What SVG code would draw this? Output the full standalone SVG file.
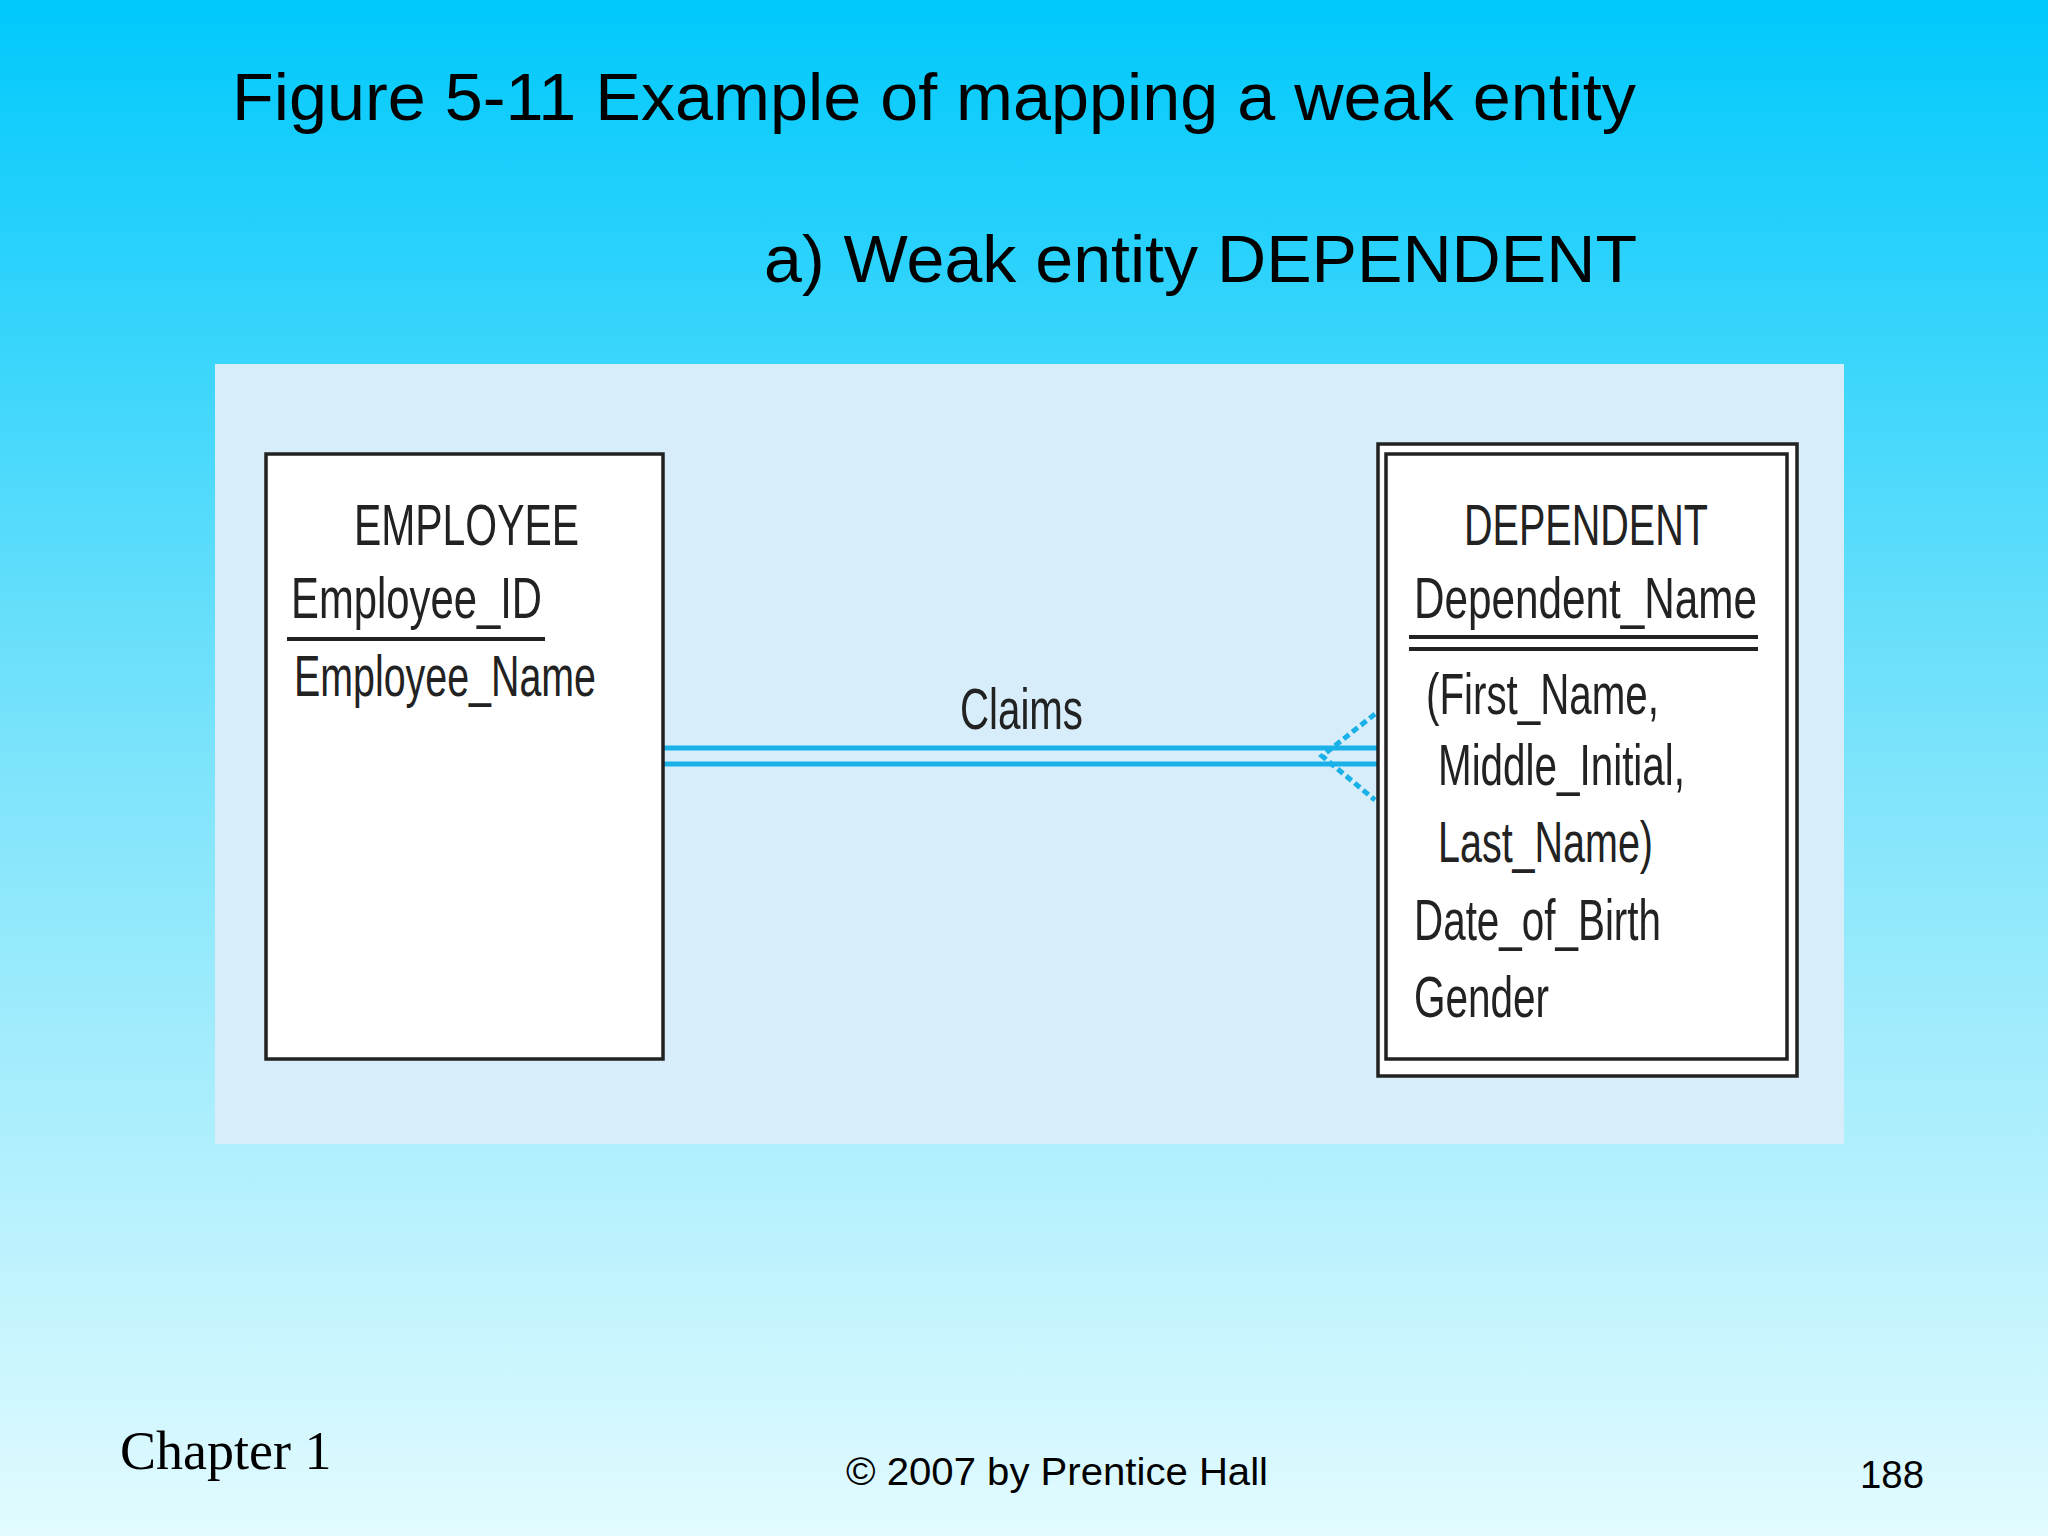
<svg xmlns="http://www.w3.org/2000/svg" width="2048" height="1536" viewBox="0 0 2048 1536">
<defs>
<linearGradient id="bg" x1="0" y1="0" x2="0" y2="1">
<stop offset="0" stop-color="#00c9fc"/>
<stop offset="0.5" stop-color="#7ee4fb"/>
<stop offset="1" stop-color="#e2fbff"/>
</linearGradient>
<style>
.h{font-family:"Liberation Sans",Arial,sans-serif;fill:#000}
.e{font-family:"Liberation Sans",Arial,sans-serif;font-size:58px;fill:#222}
.box{fill:#fff;stroke:#222;stroke-width:3.5}
.rel{stroke:#1ab0e8;stroke-width:5;fill:none}
</style>
</defs>
<rect width="2048" height="1536" fill="url(#bg)"/>
<text class="h" x="232" y="120" font-size="66" textLength="1404" lengthAdjust="spacingAndGlyphs">Figure 5-11 Example of mapping a weak entity</text>
<text class="h" x="764" y="282" font-size="66" textLength="873" lengthAdjust="spacingAndGlyphs">a) Weak entity DEPENDENT</text>
<rect x="215" y="364" width="1629" height="780" fill="#d7eefa"/>
<g id="connectors">
<line class="rel" x1="663" y1="748" x2="1378" y2="748"/>
<line class="rel" x1="663" y1="764" x2="1378" y2="764"/>
<polyline class="rel" points="1375,714 1322,756 1375,800" stroke-dasharray="7,4"/>
<text class="e" x="960" y="729" textLength="123" lengthAdjust="spacingAndGlyphs">Claims</text>
</g>
<g id="employee">
<rect class="box" x="266" y="454" width="397" height="605"/>
<text class="e" x="354" y="545" textLength="225" lengthAdjust="spacingAndGlyphs">EMPLOYEE</text>
<text class="e" x="291" y="618" textLength="251" lengthAdjust="spacingAndGlyphs">Employee_ID</text>
<line x1="287" y1="639" x2="545" y2="639" stroke="#222" stroke-width="4"/>
<text class="e" x="294" y="696" textLength="302" lengthAdjust="spacingAndGlyphs">Employee_Name</text>
</g>
<g id="dependent">
<rect class="box" x="1378" y="444" width="419" height="632"/>
<rect class="box" x="1386" y="454" width="401" height="605"/>
<text class="e" x="1464" y="545" textLength="244" lengthAdjust="spacingAndGlyphs">DEPENDENT</text>
<text class="e" x="1414" y="618" textLength="343" lengthAdjust="spacingAndGlyphs">Dependent_Name</text>
<line x1="1409" y1="637" x2="1758" y2="637" stroke="#222" stroke-width="4"/>
<line x1="1409" y1="649" x2="1758" y2="649" stroke="#222" stroke-width="4"/>
<text class="e" x="1426" y="714" textLength="233" lengthAdjust="spacingAndGlyphs">(First_Name,</text>
<text class="e" x="1438" y="785" textLength="247" lengthAdjust="spacingAndGlyphs">Middle_Initial,</text>
<text class="e" x="1438" y="862" textLength="215" lengthAdjust="spacingAndGlyphs">Last_Name)</text>
<text class="e" x="1414" y="940" textLength="247" lengthAdjust="spacingAndGlyphs">Date_of_Birth</text>
<text class="e" x="1414" y="1017" textLength="135" lengthAdjust="spacingAndGlyphs">Gender</text>
</g>
<text x="120" y="1469" font-family="Liberation Serif,Times New Roman,serif" font-size="54" fill="#000">Chapter 1</text>
<text class="h" x="846" y="1485" font-size="38" textLength="422" lengthAdjust="spacingAndGlyphs">© 2007 by Prentice Hall</text>
<text class="h" x="1860" y="1488" font-size="38" textLength="64" lengthAdjust="spacingAndGlyphs">188</text>
</svg>
